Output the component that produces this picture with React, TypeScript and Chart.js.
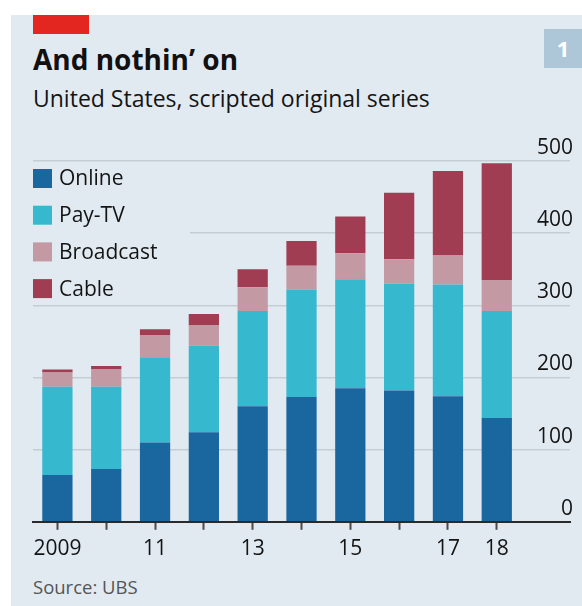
import React, { useEffect, useRef } from 'react';
import { Chart, registerables } from 'chart.js';

Chart.register(...registerables);

// ---- Data ----
const years = [2009, 2010, 2011, 2012, 2013, 2014, 2015, 2016, 2017, 2018];
const yearLabels = ['2009', '', '11', '', '13', '', '15', '', '17', '18'];
const online = [65, 73, 110, 124, 160, 173, 185, 182, 174, 144];
const payTV = [122, 114, 118, 120, 132, 149, 151, 148, 155, 148];
const broadcast = [20, 24, 31, 28, 33, 33, 36, 34, 40, 43];
const cable = [4, 5, 8, 16, 25, 34, 51, 92, 117, 162];
const yTicks = [0, 100, 200, 300, 400, 500];
const seriesNames = ['Online', 'Pay-TV', 'Broadcast', 'Cable'];

// ---- Styles ----
const seriesColors = ['#1a67a0', '#36b8cf', '#c39aa3', '#a13d52'];
const BG = '#e2eaf1';
const FONT = '"Open Sans", "Noto Sans", sans-serif';

const legendPlugin = {
  id: 'boxLegend',
  beforeDatasetsDraw(chart: any) {
    const { ctx, chartArea } = chart;
    const left = chartArea.left;
    const top = chartArea.top;
    ctx.save();
    ctx.fillStyle = BG;
    ctx.fillRect(left, top + 3, 157, 137);
    chart.data.datasets.forEach((ds: any, i: number) => {
      const cy = top + 17.5 + i * 36.7;
      ctx.fillStyle = ds.backgroundColor;
      ctx.fillRect(left, cy - 9.5, 19, 19);
      ctx.fillStyle = '#141414';
      ctx.font = `21px ${FONT}`;
      ctx.textBaseline = 'middle';
      ctx.textAlign = 'left';
      ctx.fillText(ds.label, left + 26, cy + 1);
    });
    ctx.restore();
  },
};

function ChartCanvas() {
  const ref = useRef<HTMLCanvasElement | null>(null);
  useEffect(() => {
    if (!ref.current) return;
    const values = [online, payTV, broadcast, cable];
    const chart = new Chart(ref.current, {
      type: 'bar',
      data: {
        datasets: values.map((vals, k) => ({
          label: seriesNames[k],
          data: years.map((yr, i) => ({ x: yr, y: vals[i] })),
          backgroundColor: seriesColors[k],
          borderWidth: 0,
          stack: 'total',
          barPercentage: 0.62,
          categoryPercentage: 1,
        })),
      },
      options: {
        responsive: false,
        animation: false,
        events: [],
        layout: { padding: { left: 33, right: 6, top: 161, bottom: 37 } },
        plugins: { legend: { display: false }, tooltip: { enabled: false }, title: { display: false } },
        scales: {
          x: {
            type: 'linear',
            min: 2008.5,
            max: 2019.5,
            offset: false,
            afterBuildTicks: (s: any) => {
              s.ticks = years.map((v) => ({ value: v }));
            },
            ticks: {
              autoSkip: false,
              maxRotation: 0,
              minRotation: 0,
              padding: 7,
              color: '#141414',
              font: { family: FONT, size: 21 },
              callback: (v: any) => {
                const idx = years.indexOf(Number(v));
                return idx >= 0 ? yearLabels[idx] : '';
              },
            },
            grid: {
              display: true,
              drawOnChartArea: false,
              drawTicks: true,
              tickLength: 8,
              tickWidth: 2,
              tickColor: '#4a4a4a',
              offset: false,
            },
            border: { display: true, color: '#2a2a2a', width: 2 },
          },
          y: {
            position: 'right',
            stacked: true,
            min: 0,
            max: 500,
            afterBuildTicks: (s: any) => {
              s.ticks = yTicks.map((v) => ({ value: v }));
            },
            ticks: {
              mirror: true,
              padding: 3,
              labelOffset: -13,
              color: '#141414',
              font: { family: FONT, size: 21 },
            },
            grid: {
              color: (c: any) => (c.tick && c.tick.value === 0 ? 'rgba(0,0,0,0)' : '#c5cdd4'),
              lineWidth: 1.5,
              drawTicks: false,
            },
            border: { display: false },
          },
        },
      },
      plugins: [legendPlugin],
    } as any);
    return () => chart.destroy();
  }, []);
  return (
    <canvas
      ref={ref}
      width={582}
      height={606}
      style={{ position: 'absolute', left: 0, top: 0, width: 582, height: 606 }}
    />
  );
}

export default function App() {
  return (
    <div
      style={{
        position: 'fixed',
        left: 0,
        top: 0,
        width: 582,
        height: 606,
        background: '#ffffff',
        overflow: 'hidden',
        fontFamily: FONT,
      }}
    >
      <div style={{ position: 'absolute', left: 11, top: 15, right: 0, bottom: 0, background: BG }} />
      <div style={{ position: 'absolute', left: 33, top: 15, width: 56, height: 19, background: '#e3261f' }} />
      <div
        style={{
          position: 'absolute',
          left: 544,
          top: 29,
          width: 38,
          height: 39,
          background: '#adc7d8',
          color: '#ffffff',
          fontWeight: 700,
          fontSize: 22,
          lineHeight: '39px',
          textAlign: 'center',
        }}
      >
        1
      </div>
      <div
        style={{
          position: 'absolute',
          left: 33,
          top: 44.5,
          fontSize: 28,
          lineHeight: 1,
          fontWeight: 700,
          color: '#111111',
          whiteSpace: 'nowrap',
        }}
      >
        And nothin’ on
      </div>
      <div
        style={{
          position: 'absolute',
          left: 33,
          top: 87,
          fontSize: 23,
          lineHeight: 1,
          color: '#141414',
          whiteSpace: 'nowrap',
        }}
      >
        United States, scripted original series
      </div>
      <div
        style={{
          position: 'absolute',
          left: 33,
          top: 578,
          fontSize: 18.5,
          lineHeight: 1,
          color: '#555555',
          whiteSpace: 'nowrap',
        }}
      >
        Source: UBS
      </div>
      <ChartCanvas />
    </div>
  );
}
